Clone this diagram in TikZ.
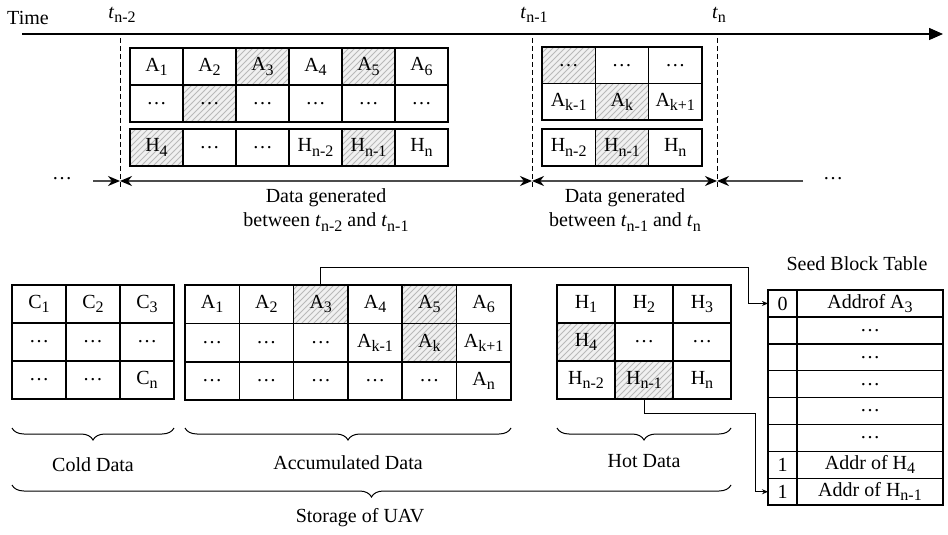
\documentclass[tikz,border=0pt]{standalone}
\usepackage{fontspec}
\setmainfont{Liberation Serif}
\usepackage{tikz}
\usetikzlibrary{arrows.meta, patterns, decorations.pathreplacing}

\newcommand{\sub}[1]{\raisebox{-0.45ex}{\fontsize{8}{9}\selectfont #1}}
\newcommand{\tstamp}[1]{\textit{t}\sub{#1}}

\begin{document}
\begin{tikzpicture}[x=0.5pt, y=-0.5pt, font=\fontsize{10}{12}\selectfont,
    cell/.style={rectangle, draw, line width=0.75pt, inner sep=0pt, outer sep=0pt},
    blank/.style={},
    marked/.style={preaction={fill=gray!12}, pattern=north east lines,
                   pattern color=gray!55},
    kind/.style={#1},
    tline/.style={dash pattern=on 2.5pt off 1.5pt, line width=0.5pt},
    axis/.style={-{Triangle[length=7pt, width=6pt]}, line width=0.7pt},
    tip/.style={Stealth[length=6pt, width=5pt, black]},
    span/.style={{Stealth[length=6pt, width=5pt, black]}-{Stealth[length=6pt, width=5pt, black]},
                 line width=0.9pt, black!70},
    half/.style={-{Stealth[length=6pt, width=5pt, black]}, line width=0.9pt, black!70},
    link/.style={-{Stealth[length=3pt, width=2.5pt]}, line width=0.5pt},
    brace/.style={decorate, decoration={brace, mirror, amplitude=6pt},
                  line width=0.5pt}]
  \useasboundingbox (0,0) rectangle (948,535);

  % time axis and the three time stamps
  \node (time) at (28,18) {Time};
  \coordinate (axstart) at (22,34);
  \coordinate (axend) at (943,34);
  \draw[axis] (axstart) -- (axend);
  \node (tA) at (122,15) {\tstamp{n-2}};
  \node (tB) at (534,15) {\tstamp{n-1}};
  \node (tC) at (719,15) {\tstamp{n}};
  \foreach \n/\x in {A/120, B/532, C/717} {
    \coordinate (top\n) at (\x,38);
    \coordinate (bot\n) at (\x,190);
    \coordinate (mid\n) at (\x,181);
    \draw[tline] (top\n) -- (bot\n);
  }

  % blocks written between t_{n-2} and t_{n-1}
  \foreach \row [count=\r] in {
      {A\sub{1}/blank, A\sub{2}/blank, A\sub{3}/marked, A\sub{4}/blank, A\sub{5}/marked, A\sub{6}/blank},
      {\dots/blank, \dots/marked, \dots/blank, \dots/blank, \dots/blank, \dots/blank}}
    \foreach \lab/\sty [count=\c] in \row
      \node[cell, kind/.expanded=\sty, minimum width=26.5pt, minimum height=18.5pt]
        (ga-\r-\c) at ({130+53*(\c-0.5)}, {48+37*(\r-0.5)}) {\lab};
  \foreach \lab/\sty [count=\c] in {H\sub{4}/marked, \dots/blank, \dots/blank,
      H\sub{n-2}/blank, H\sub{n-1}/marked, H\sub{n}/blank}
    \node[cell, kind/.expanded=\sty, minimum width=26.5pt, minimum height=18.5pt]
      (gah-\c) at ({130+53*(\c-0.5)}, 147.5) {\lab};

  % blocks written between t_{n-1} and t_n
  \foreach \row [count=\r] in {
      {\dots/marked, \dots/blank, \dots/blank},
      {A\sub{k-1}/blank, A\sub{k}/marked, A\sub{k+1}/blank}}
    \foreach \lab/\sty [count=\c] in \row
      \node[cell, kind/.expanded=\sty, minimum width=26.7pt, minimum height=18.3pt]
        (gb-\r-\c) at ({542+53.3*(\c-0.5)}, {47+36.5*(\r-0.5)}) {\lab};
  \foreach \lab/\sty [count=\c] in {H\sub{n-2}/blank, H\sub{n-1}/marked, H\sub{n}/blank}
    \node[cell, kind/.expanded=\sty, minimum width=26.7pt, minimum height=18.5pt]
      (gbh-\c) at ({542+53.3*(\c-0.5)}, 147.5) {\lab};

  % periods on the time line
  \node (dotsL) at (62,179) {\dots};
  \node (dotsR) at (833,179) {\dots};
  \coordinate (startL) at (93,181);
  \coordinate (endR) at (803,181);
  \draw[half] (startL) -- (midA);
  \draw[span] (midA) -- (midB);
  \draw[span] (midB) -- (midC);
  \draw[half] (endR) -- (midC);
  \node[align=center] (genA) at (326,210) {Data generated\\between \tstamp{n-2} and \tstamp{n-1}};
  \node[align=center] (genB) at (625,210) {Data generated\\between \tstamp{n-1} and \tstamp{n}};

  % storage of the UAV
  \foreach \row [count=\r] in {
      {C\sub{1}, C\sub{2}, C\sub{3}}, {\dots, \dots, \dots}, {\dots, \dots, C\sub{n}}}
    \foreach \lab [count=\c] in \row
      \node[cell, minimum width=27pt, minimum height=19pt]
        (cold-\r-\c) at ({12+54*(\c-0.5)}, {285+38*(\r-0.5)}) {\lab};
  \foreach \row [count=\r] in {
      {A\sub{1}/blank, A\sub{2}/blank, A\sub{3}/marked, A\sub{4}/blank, A\sub{5}/marked, A\sub{6}/blank},
      {\dots/blank, \dots/blank, \dots/blank, A\sub{k-1}/blank, A\sub{k}/marked, A\sub{k+1}/blank},
      {\dots/blank, \dots/blank, \dots/blank, \dots/blank, \dots/blank, A\sub{n}/blank}}
    \foreach \lab/\sty [count=\c] in \row
      \node[cell, kind/.expanded=\sty, minimum width=27.15pt, minimum height=19.2pt]
        (acc-\r-\c) at ({185+54.3*(\c-0.5)}, {285+38.4*(\r-0.5)}) {\lab};
  \foreach \row [count=\r] in {
      {H\sub{1}/blank, H\sub{2}/blank, H\sub{3}/blank},
      {H\sub{4}/marked, \dots/blank, \dots/blank},
      {H\sub{n-2}/blank, H\sub{n-1}/marked, H\sub{n}/blank}}
    \foreach \lab/\sty [count=\c] in \row
      \node[cell, kind/.expanded=\sty, minimum width=29pt, minimum height=19pt]
        (hot-\r-\c) at ({557+58*(\c-0.5)}, {285+38*(\r-0.5)}) {\lab};

  \draw[brace] (12,428) -- (174,428);
  \draw[brace] (185,428) -- (511,428);
  \draw[brace] (557,428) -- (731,428);
  \draw[brace] (12,485) -- (731,485);
  \node (cold) at (93,465) {Cold Data};
  \node (accu) at (348,463) {Accumulated Data};
  \node (hot) at (644,461) {Hot Data};
  \node (uav) at (360,518) {Storage of UAV};

  % seed block table
  \node (seedtitle) at (857,264) {Seed Block Table};
  \foreach \flag/\addr [count=\r] in {0/Addrof A\sub{3}, /\dots, /\dots, /\dots,
      /\dots, /\dots, 1/Addr of H\sub{4}, 1/Addr of H\sub{n-1}} {
    \node[cell, minimum width=14.5pt, minimum height=13.45pt]
      (seed-\r-1) at (782.5, {290+26.9*(\r-0.5)}) {\flag};
    \node[cell, minimum width=73pt, minimum height=13.45pt]
      (seed-\r-2) at (870, {290+26.9*(\r-0.5)}) {\addr};
  }

  \coordinate (bendA) at (748,267);
  \coordinate (bendB) at (755,413);
  \draw[link] (acc-1-3.north) |- (bendA) |- (seed-1-1.west);
  \draw[link] (hot-3-2.south) |- (bendB) |- (seed-8-1.west);
\end{tikzpicture}
\end{document}
